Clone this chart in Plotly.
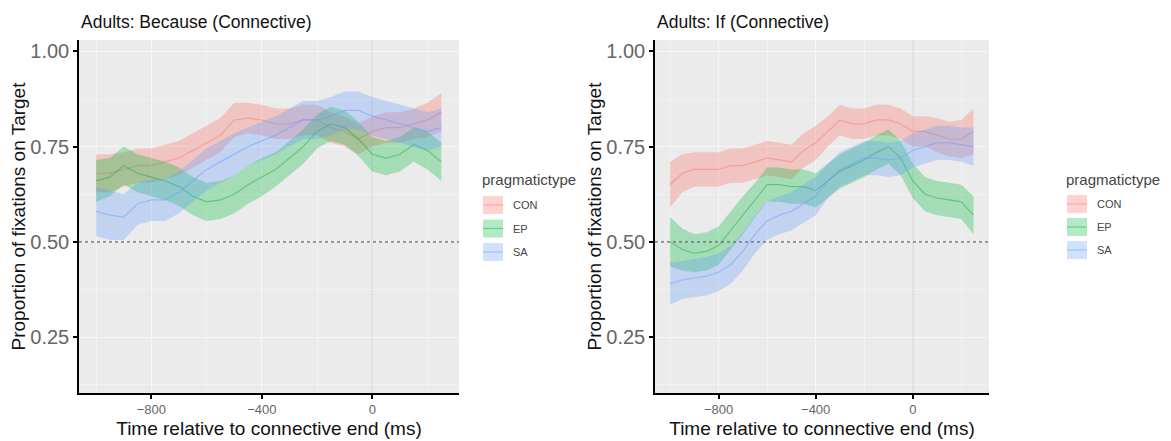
import plotly.graph_objects as go

time_ms = [-1000, -950, -900, -850, -800, -750, -700, -650, -600, -550, -500, -450, -400,
           -350, -300, -250, -200, -150, -100, -50, 0, 50, 100, 150, 200, 250]

categories = ["CON", "EP", "SA"]
legend_title = "pragmatictype"

# Panel 1: Because
because_con = [0.68, 0.68, 0.69, 0.70, 0.70, 0.71, 0.72, 0.74, 0.76, 0.78, 0.82, 0.825, 0.82,
               0.81, 0.81, 0.82, 0.82, 0.80, 0.79, 0.77, 0.79, 0.80, 0.80, 0.81, 0.82, 0.84]
because_con_ci = [0.05, 0.05, 0.045, 0.045, 0.045, 0.045, 0.045, 0.045, 0.045, 0.045, 0.045, 0.04, 0.04,
                  0.04, 0.04, 0.04, 0.04, 0.04, 0.04, 0.04, 0.04, 0.04, 0.04, 0.04, 0.045, 0.05]
because_ep = [0.66, 0.67, 0.70, 0.68, 0.67, 0.66, 0.645, 0.62, 0.605, 0.61, 0.625, 0.65, 0.67,
              0.69, 0.72, 0.75, 0.79, 0.81, 0.80, 0.77, 0.73, 0.72, 0.73, 0.755, 0.74, 0.71]
because_ep_ci = [0.055, 0.05, 0.05, 0.05, 0.05, 0.05, 0.05, 0.05, 0.05, 0.05, 0.05, 0.05, 0.05,
                 0.045, 0.045, 0.045, 0.045, 0.045, 0.045, 0.045, 0.045, 0.045, 0.045, 0.045, 0.05, 0.05]
because_sa = [0.58, 0.57, 0.565, 0.60, 0.61, 0.61, 0.63, 0.66, 0.69, 0.71, 0.73, 0.75, 0.765,
              0.78, 0.80, 0.82, 0.82, 0.83, 0.845, 0.845, 0.83, 0.82, 0.81, 0.80, 0.79, 0.80]
because_sa_ci = [0.065, 0.065, 0.06, 0.055, 0.055, 0.055, 0.055, 0.055, 0.055, 0.055, 0.055, 0.05, 0.05,
                 0.05, 0.05, 0.05, 0.05, 0.05, 0.05, 0.05, 0.05, 0.05, 0.05, 0.05, 0.05, 0.05]

# Panel 2: If
if_con = [0.65, 0.68, 0.69, 0.69, 0.69, 0.70, 0.70, 0.71, 0.72, 0.715, 0.71, 0.74, 0.76,
          0.79, 0.82, 0.81, 0.81, 0.82, 0.82, 0.81, 0.79, 0.79, 0.78, 0.77, 0.77, 0.79]
if_con_ci = [0.06, 0.05, 0.045, 0.045, 0.045, 0.045, 0.045, 0.045, 0.045, 0.045, 0.045, 0.045, 0.045,
             0.04, 0.04, 0.04, 0.04, 0.04, 0.04, 0.04, 0.04, 0.04, 0.045, 0.045, 0.05, 0.06]
if_ep = [0.50, 0.48, 0.47, 0.475, 0.49, 0.53, 0.57, 0.61, 0.65, 0.65, 0.645, 0.645, 0.635,
         0.66, 0.685, 0.70, 0.715, 0.735, 0.75, 0.72, 0.66, 0.625, 0.615, 0.61, 0.605, 0.57]
if_ep_ci = [0.065, 0.055, 0.05, 0.05, 0.05, 0.05, 0.05, 0.045, 0.045, 0.045, 0.045, 0.045, 0.045,
            0.045, 0.045, 0.045, 0.045, 0.045, 0.045, 0.045, 0.045, 0.045, 0.045, 0.045, 0.045, 0.05]
if_sa = [0.39, 0.40, 0.405, 0.41, 0.42, 0.44, 0.475, 0.52, 0.555, 0.57, 0.58, 0.60, 0.62,
         0.66, 0.69, 0.705, 0.72, 0.72, 0.715, 0.72, 0.74, 0.75, 0.76, 0.76, 0.755, 0.75]
if_sa_ci = [0.055, 0.05, 0.05, 0.05, 0.05, 0.05, 0.05, 0.05, 0.05, 0.05, 0.05, 0.05, 0.05,
            0.045, 0.045, 0.045, 0.045, 0.045, 0.045, 0.045, 0.045, 0.045, 0.045, 0.045, 0.045, 0.05]

panel_titles = ["Adults: Because (Connective)", "Adults: If (Connective)"]
x_ticks = [-800, -400, 0]
x_minor = [-1000, -600, -200, 200]
y_ticks = [0.25, 0.50, 0.75, 1.00]
y_tick_labels = ["0.25", "0.50", "0.75", "1.00"]
y_minor = [0.125, 0.375, 0.625, 0.875]
chance_level = 0.5

FONT = "Liberation Sans, Arial, sans-serif"
fill_colors = {"CON": "rgba(248,118,109,0.33)", "EP": "rgba(0,186,56,0.30)", "SA": "rgba(97,156,255,0.30)"}
line_colors = {"CON": "rgba(248,118,109,0.45)", "EP": "rgba(0,160,50,0.40)", "SA": "rgba(97,156,255,0.45)"}

panels = [
    {"CON": (because_con, because_con_ci), "EP": (because_ep, because_ep_ci), "SA": (because_sa, because_sa_ci)},
    {"CON": (if_con, if_con_ci), "EP": (if_ep, if_ep_ci), "SA": (if_sa, if_sa_ci)},
]

W, H = 1171, 441
x_domains = [[79 / W, 459 / W], [655 / W, 989 / W]]
y_domain = [1 - 393 / H, 1 - 40 / H]
# legend placement (pixels): title x, title y, key x, first key y, key spacing
legend_pos = [(480, 179, 483, 205, 23.5), (1064, 179, 1067, 204, 23)]

fig = go.Figure()

for p, data in enumerate(panels):
    xa = "x" if p == 0 else "x2"
    ya = "y" if p == 0 else "y2"
    for cat in categories:
        mean, ci = data[cat]
        upper = [m + c for m, c in zip(mean, ci)]
        lower = [m - c for m, c in zip(mean, ci)]
        fig.add_trace(go.Scatter(
            x=time_ms + time_ms[::-1], y=upper + lower[::-1],
            fill="toself", fillcolor=fill_colors[cat], mode="lines",
            line=dict(width=0, color=fill_colors[cat]),
            name=cat, showlegend=False, xaxis=xa, yaxis=ya, hoverinfo="skip"))
        fig.add_trace(go.Scatter(
            x=time_ms, y=mean, mode="lines",
            line=dict(width=1.2, color=line_colors[cat]),
            name=cat, showlegend=False, xaxis=xa, yaxis=ya))

fig.update_layout(
    width=W, height=H, margin=dict(l=0, r=0, t=0, b=0),
    paper_bgcolor="white", plot_bgcolor="#EBEBEB",
    font=dict(family=FONT, color="black"),
    showlegend=False,
)

for p in range(2):
    sx = "" if p == 0 else "2"
    base = dict(showline=True, linecolor="black", linewidth=1.5, ticks="outside",
                ticklen=4, tickcolor="black", tickwidth=1.5,
                gridcolor="rgba(255,255,255,0.55)", gridwidth=1, zeroline=False)
    fig.update_layout(**{
        f"xaxis{sx}": dict(base, domain=x_domains[p], range=[-1062, 314],
                          tickvals=x_ticks, anchor=f"y{sx}",
                          tickfont=dict(family=FONT, size=13, color="#666666"),
                          minor=dict(showgrid=True, gridcolor="rgba(255,255,255,0.35)", gridwidth=0.6,
                                     tickvals=x_minor, ticks=""),
                          title=dict(text="Time relative to connective end (ms)",
                                     font=dict(family=FONT, size=19, color="#111111"), standoff=5)),
        f"yaxis{sx}": dict(base, domain=y_domain, range=[0.103, 1.03],
                          tickvals=y_ticks, ticktext=y_tick_labels, anchor=f"x{sx}",
                          tickfont=dict(family=FONT, size=20, color="#666666"),
                          minor=dict(showgrid=True, gridcolor="rgba(255,255,255,0.35)", gridwidth=0.6,
                                     tickvals=y_minor, ticks=""),
                          title=dict(text="Proportion of fixations on Target",
                                     font=dict(family=FONT, size=19, color="#111111"), standoff=0)),
    })
    xr = f"x{sx} domain"
    # reference lines
    fig.add_shape(type="line", xref=f"x{sx}", yref=f"y{sx} domain", x0=0, x1=0, y0=0, y1=1,
                  line=dict(color="rgba(160,160,160,0.7)", width=1), layer="below")
    fig.add_shape(type="line", xref=xr, yref=f"y{sx}", x0=0, x1=1, y0=chance_level, y1=chance_level,
                  line=dict(color="#666666", width=1.3, dash="dot"))
    fig.add_annotation(text=panel_titles[p], xref=xr, yref="paper", x=0, y=1 - 22 / H,
                       xanchor="left", yanchor="middle", showarrow=False,
                       font=dict(family=FONT, size=17.5, color="#111111"))

    # manual legend
    tx, ty, kx, ky, dy = legend_pos[p]
    fig.add_annotation(text=legend_title, xref="paper", yref="paper", x=tx / W, y=1 - ty / H,
                       xanchor="left", yanchor="middle", showarrow=False,
                       font=dict(family=FONT, size=15, color="#444444"))
    for i, cat in enumerate(categories):
        cy = ky + i * dy
        fig.add_shape(type="rect", xref="paper", yref="paper",
                      x0=kx / W, x1=(kx + 20) / W, y0=1 - (cy - 9) / H, y1=1 - (cy + 9) / H,
                      fillcolor=fill_colors[cat], line=dict(width=0))
        fig.add_shape(type="line", xref="paper", yref="paper",
                      x0=kx / W, x1=(kx + 20) / W, y0=1 - cy / H, y1=1 - cy / H,
                      line=dict(color=line_colors[cat], width=1.2))
        fig.add_annotation(text=cat, xref="paper", yref="paper", x=(kx + 28) / W, y=1 - cy / H,
                           xanchor="left", yanchor="middle", showarrow=False,
                           font=dict(family=FONT, size=11, color="#444444"))

fig.write_html("out.html")
